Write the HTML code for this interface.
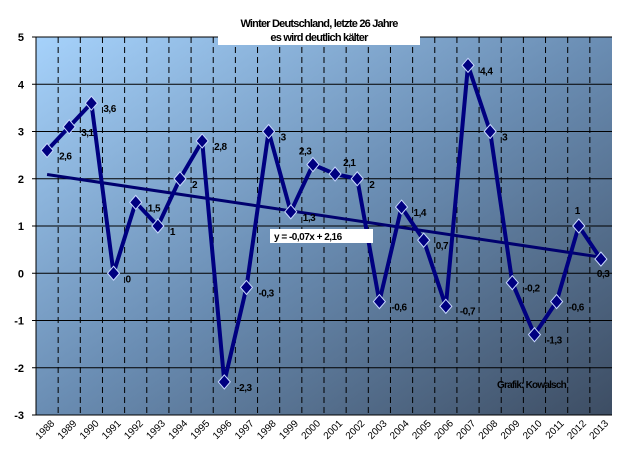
<!DOCTYPE html>
<html><head><meta charset="utf-8"><style>
body{margin:0;background:#fff;}
svg{display:block;font-family:"Liberation Sans",sans-serif;}
</style></head><body>
<svg id="c" width="628" height="462">
<defs><linearGradient id="bg" x1="0" y1="0" x2="1" y2="1">
<stop offset="0" stop-color="#a6d2fb"/><stop offset="0.5" stop-color="#6a8db3"/><stop offset="1" stop-color="#3d4d63"/></linearGradient></defs>
<rect x="36" y="37" width="576" height="378" fill="url(#bg)"/>
<g id="grid"></g><g id="trend"></g><g id="series"></g><g id="labels"></g>
<rect x="218" y="15" width="202" height="30" fill="#fff"/>
<text x="319" y="27" text-anchor="middle" font-size="11" font-weight="bold" letter-spacing="-0.8">Winter Deutschland, letzte 26 Jahre</text>
<text x="319" y="41" text-anchor="middle" font-size="11" font-weight="bold" letter-spacing="-0.8">es wird deutlich kälter</text>
<rect x="270" y="229" width="103" height="14" fill="#fff"/>
<text x="274" y="240" font-size="10" font-weight="bold" letter-spacing="-0.5">y = -0,07x + 2,16</text>
<text x="497" y="388" font-size="10" font-weight="bold" letter-spacing="-0.8">Grafik: Kowalsch</text>
</svg>
<script>
const years=[1988,1989,1990,1991,1992,1993,1994,1995,1996,1997,1998,1999,2000,2001,2002,2003,2004,2005,2006,2007,2008,2009,2010,2011,2012,2013];
const values=[2.6,3.1,3.6,0,1.5,1,2,2.8,-2.3,-0.3,3,1.3,2.3,2.1,2,-0.6,1.4,0.7,-0.7,4.4,3,-0.2,-1.3,-0.6,1,0.3];
const yTicks=[5,4,3,2,1,0,-1,-2,-3];
const trendSlope=-0.07, trendIntercept=2.16;
const NS="http://www.w3.org/2000/svg";
const L=36,R=612,T=37,B=415,yMax=5,yMin=-3;
const bw=(R-L)/years.length;
const xs=i=>L+bw*(i+0.5);
const ys=v=>T+(yMax-v)/(yMax-yMin)*(B-T);
const labelOffset={12:[-14,-10],13:[8,-8],24:[-4,-12],25:[-4,18],18:[14,8]};
function mk(p,tag,a){const e=document.createElementNS(NS,tag);for(const k in a)e.setAttribute(k,a[k]);document.getElementById(p).appendChild(e);return e;}
yTicks.forEach(v=>{
 const l=mk('grid','line',{x1:L-4,x2:R,y1:ys(v),y2:ys(v),stroke:'#000','stroke-width':1});
 
 
 const t=mk('grid','text',{x:L-12,y:ys(v)+4,'text-anchor':'end','font-size':11,'font-weight':'bold'});
 t.textContent=v;
 
 
});
years.forEach((y,i)=>{
 if(i>0){const l=mk('grid','line',{x1:L+bw*i,x2:L+bw*i,y1:T,y2:B,stroke:'#000','stroke-width':1,'stroke-dasharray':'6,4'});
 
 }
 const x=xs(i)+8,yy=B+9;
 const t=mk('grid','text',{x:x,y:yy,'text-anchor':'end','font-size':10,transform:`rotate(-45 ${x} ${yy})`});
 t.textContent=y;
 
 
});
mk('grid','line',{x1:L,x2:L,y1:T,y2:B,stroke:'#000'});
mk('grid','line',{x1:L,x2:R,y1:B,y2:B,stroke:'#000'});
const tr=mk('trend','line',{x1:xs(0),y1:ys(trendSlope*1+trendIntercept),x2:xs(years.length-1),y2:ys(trendSlope*years.length+trendIntercept),stroke:'#00006e','stroke-width':3});


const pl=mk('series','polyline',{points:values.map((v,i)=>xs(i)+','+ys(v)).join(' '),fill:'none',stroke:'#000080','stroke-width':4,'stroke-linejoin':'round'});


values.forEach((v,i)=>{
 const x=xs(i),y=ys(v);
 const m=mk('series','polygon',{points:`${x},${y-7} ${x+6},${y} ${x},${y+7} ${x-6},${y}`,fill:'#000080',stroke:'#c8d8ff','stroke-width':1});
 
 
 const o=labelOffset[i]||[12,9];
 const t=mk('labels','text',{x:x+o[0],y:y+o[1],'font-size':10,'font-weight':'bold','letter-spacing':'-0.5'});
 t.textContent=String(v).replace('.',',');
 
 
});
</script>
</body></html>
